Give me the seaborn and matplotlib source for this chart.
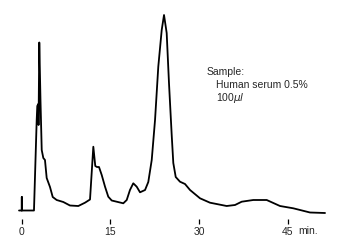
import matplotlib
matplotlib.use("Agg")
import matplotlib.pyplot as plt
import seaborn as sns
import pandas as pd

# Chromatogram trace (retention time in minutes, detector response in arbitrary units)
time_min = [-0.47, 0.00, 0.00, 0.00, 2.06, 2.52, 2.62, 2.79, 2.83, 2.96, 3.16, 3.37,
            3.64, 3.92, 4.21, 4.77, 5.23, 5.90, 7.02, 8.15, 9.56, 10.69, 11.54,
            12.10, 12.43, 12.72, 13.06, 13.52, 14.08, 14.63, 15.21, 16.05, 17.17,
            17.75, 18.30, 18.86, 19.44, 20.00, 20.85, 21.40, 21.98, 22.54, 23.09,
            23.67, 24.06, 24.51, 24.90, 25.36, 25.63, 26.04, 26.76, 27.61, 28.46,
            30.15, 31.84, 34.66, 36.07, 37.20, 39.16, 41.43, 43.68, 45.93, 48.76,
            51.30]
response = [0, 0, 13.5, 0, 0, 90.5, 104.5, 106.5, 85.5, 168, 110.5, 60.5,
            52.5, 50.5, 32.5, 23.5, 13.5, 10.5, 8.5, 5, 4.5, 7.8, 11,
            63.8, 44.5, 43.5, 43.5, 35.5, 23.8, 13.8, 10, 8.8, 7.2,
            10.5, 20.5, 27.2, 23.8, 18.2, 20.5, 28.5, 50.5, 90.5, 143.8,
            180.5, 195.5, 177.5, 127.5, 75.5, 47.5, 33.5, 28.8, 26.5, 20.5,
            12.2, 7.8, 4.5, 5.5, 8.8, 10.5, 10.5, 4.5, 2.2, -2,
            -2.5]

tick_values = [0, 15, 30, 45]
tick_labels = ["0", "15", "30", "45"]
unit_label = "min."
note_lines = ["Sample:", "Human serum 0.5%", r"100$\mu l$"]

sns.set_style("white")
plt.rcParams["font.family"] = ["Liberation Sans", "DejaVu Sans"]

df = pd.DataFrame({"t": time_min, "r": response})

fig = plt.figure(figsize=(3.44, 2.43), dpi=100)
ax = fig.add_axes([0, 24 / 243, 1, 219 / 243])
sns.lineplot(data=df, x="t", y="r", sort=False, estimator=None, color="black",
             linewidth=1.3, ax=ax, solid_joinstyle="round", solid_capstyle="round")

ax.set_xlim(-21.8 / 5.911, (344 - 21.8) / 5.911)
ax.set_ylim(-8.5, 210.5)
for s in ax.spines.values():
    s.set_visible(False)
ax.set_xticks(tick_values)
ax.set_xticklabels(tick_labels)
ax.set_yticks([])
ax.tick_params(axis="x", direction="out", length=3.6, width=0.9, pad=2,
               labelsize=7.5, color="black", bottom=True)
ax.set_xlabel("")
ax.set_ylabel("")
if ax.get_legend():
    ax.get_legend().remove()

fig.text(308 / 344, 1 - 231 / 243, unit_label, ha="center", va="center", fontsize=7.5)
fig.text(206.5 / 344, 1 - 72 / 243, note_lines[0], ha="left", va="center", fontsize=7.5)
fig.text(216.5 / 344, 1 - 85.5 / 243, note_lines[1], ha="left", va="center", fontsize=7.5)
fig.text(216.5 / 344, 1 - 98 / 243, note_lines[2], ha="left", va="center", fontsize=7.5)

fig.savefig("out.png", dpi=100)
